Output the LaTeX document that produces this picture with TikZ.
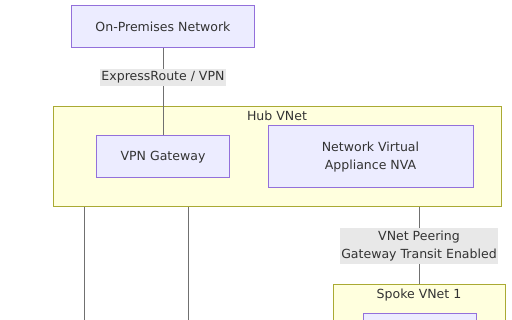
\documentclass[tikz,border=0pt]{standalone}
\usepackage{fontspec}
\setmainfont{DejaVu Sans}
\definecolor{boxfill}{HTML}{ECECFF}
\definecolor{boxline}{HTML}{9370DB}
\definecolor{netfill}{HTML}{FFFFDE}
\definecolor{netline}{HTML}{AAAA33}
\definecolor{labelfill}{HTML}{E8E8E8}
\definecolor{textcol}{HTML}{333333}
\definecolor{linkcol}{HTML}{707070}

\begin{document}
\begin{tikzpicture}[x=0.75pt,y=-0.75pt,
	font=\fontsize{9.4}{13.9}\selectfont, text=textcol,
	unit/.style={rectangle,draw=boxline,fill=boxfill,line width=0.75pt,align=center},
	vnet/.style={rectangle,draw=netline,fill=netfill,line width=0.75pt},
	link/.style={draw=linkcol,line width=0.75pt},
	linklabel/.style={fill=labelfill,inner xsep=1pt,inner ysep=2pt,align=center}]
	\useasboundingbox (0,0) rectangle (512,320);
	\clip (0,0) rectangle (512,320);
	% virtual networks
	\node[vnet,minimum width=336pt,minimum height=75pt] (hub) at (277,157) {};
	\node (hubtitle) at (277,116) {Hub VNet};
	\node[vnet,minimum width=129pt,minimum height=86.25pt] (spoke1) at (419,342.5) {};
	\node (spoketitle) at (419,295) {Spoke VNet 1};
	% devices
	\node[unit,minimum width=137.25pt,minimum height=31.5pt] (onprem) at (163,27) {On-Premises Network};
	\node[unit,minimum width=99.75pt,minimum height=31.5pt] (vpngw) at (163,157) {VPN Gateway};
	\node[unit,minimum width=153.75pt,minimum height=46.5pt] (nva) at (370.5,157) {Network Virtual\\Appliance NVA};
	\node[unit,minimum width=84.75pt,minimum height=50pt] (workload) at (419.5,346.5) {};
	% links
	\coordinate (down1) at (84,340);
	\coordinate (down2) at (188,340);
	\draw[link] (onprem) -- node[linklabel,pos=0.33] (erlabel) {ExpressRoute / VPN} (vpngw);
	\draw[link] (hub.south -| down1) -- (down1);
	\draw[link] (hub.south -| down2) -- (down2);
	\draw[link] (hub.south -| spoke1) -- node[linklabel] (peerlabel) {VNet Peering\\Gateway Transit Enabled} (spoke1.north);
\end{tikzpicture}
\end{document}
